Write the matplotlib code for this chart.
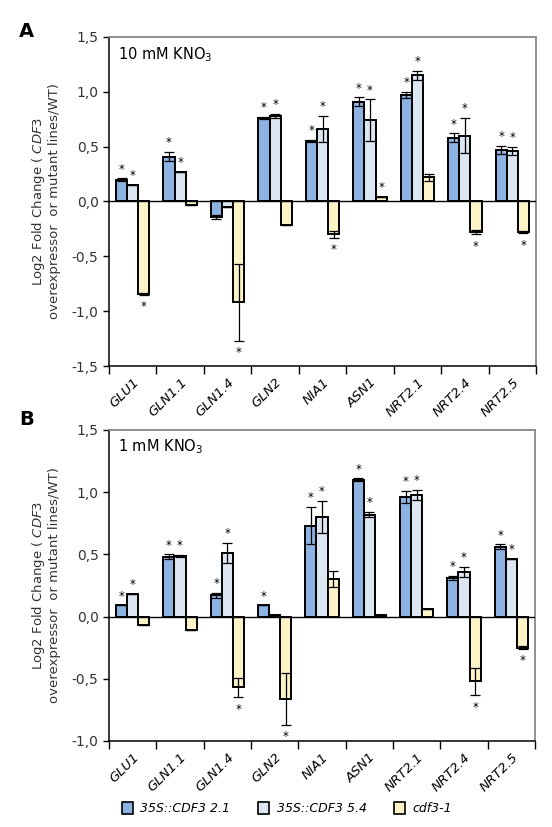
import matplotlib
matplotlib.use('Agg')
import matplotlib.pyplot as plt
from matplotlib.patches import Patch
from matplotlib.ticker import FuncFormatter, FixedLocator
import numpy as np

# Data
# -------------------------------------------------------------------------------------------
genes = ['GLU1', 'GLN1.1', 'GLN1.4', 'GLN2', 'NIA1', 'ASN1', 'NRT2.1', 'NRT2.4', 'NRT2.5']
series = ['35S::CDF3 2.1', '35S::CDF3 5.4', 'cdf3-1']

# panel A - 10 mM KNO3
a_oe21 = [0.20, 0.41, -0.14, 0.76, 0.55, 0.91, 0.97, 0.58, 0.47]
a_oe21_err = [0.01, 0.04, 0.02, 0.01, 0.01, 0.04, 0.03, 0.04, 0.04]
a_oe54 = [0.15, 0.27, -0.05, 0.78, 0.66, 0.74, 1.15, 0.60, 0.46]
a_oe54_err = [0.00, 0.00, 0.00, 0.02, 0.12, 0.19, 0.04, 0.16, 0.04]
a_mut = [-0.84, -0.03, -0.92, -0.21, -0.30, 0.04, 0.22, -0.28, -0.28]
a_mut_err = [0.01, 0.00, 0.35, 0.00, 0.03, 0.00, 0.03, 0.02, 0.01]
a_stars = [[1, 1, 1], [1, 1, 0], [0, 0, 1], [1, 1, 0], [1, 1, 1],
           [1, 1, 1], [1, 1, 0], [1, 1, 1], [1, 1, 1]]

# panel B - 1 mM KNO3
b_oe21 = [0.09, 0.48, 0.17, 0.09, 0.73, 1.10, 0.96, 0.31, 0.56]
b_oe21_err = [0.00, 0.02, 0.02, 0.00, 0.15, 0.01, 0.05, 0.02, 0.02]
b_oe54 = [0.185, 0.485, 0.51, 0.01, 0.80, 0.82, 0.98, 0.36, 0.465]
b_oe54_err = [0.00, 0.01, 0.08, 0.00, 0.13, 0.02, 0.04, 0.04, 0.00]
b_mut = [-0.065, -0.11, -0.57, -0.66, 0.30, 0.01, 0.06, -0.52, -0.25]
b_mut_err = [0.00, 0.00, 0.08, 0.21, 0.065, 0.00, 0.00, 0.11, 0.01]
b_stars = [[1, 1, 0], [1, 1, 0], [1, 1, 1], [1, 0, 1], [1, 1, 0],
           [1, 1, 0], [1, 1, 0], [1, 1, 1], [1, 1, 1]]

colors = ['#8db3e2', '#dce6f2', '#fdf3c6']
bw = 0.235

# Plotting
# ----------------------------------------------------------------------------------------------
def comma(v, pos):
    return ('%.1f' % v).replace('.', ',')


def panel(ax, vals, errs, stars, ylim, title):
    x = np.arange(len(genes))
    for k in range(3):
        xs = x + (k - 1) * bw
        ax.bar(xs, vals[k], bw, color=colors[k], edgecolor='black', linewidth=1.4, zorder=2)
        ax.errorbar(xs, vals[k], yerr=errs[k], fmt='none', ecolor='black',
                    elinewidth=0.9, capsize=3.5, capthick=0.9, zorder=3)
        for i in range(len(genes)):
            if not stars[i][k]:
                continue
            v = vals[k][i]
            e = errs[k][i]
            if v >= 0:
                ax.annotate('*', (xs[i], v + e), xytext=(0, 2), textcoords='offset points',
                            ha='center', va='bottom', fontsize=8.5)
            else:
                ax.annotate('*', (xs[i], v - e), xytext=(0, -4), textcoords='offset points',
                            ha='center', va='top', fontsize=8.5)
    ax.axhline(0, color='black', linewidth=1.0, zorder=4)
    ax.set_xlim(-0.5, len(genes) - 0.5)
    ax.set_ylim(ylim)
    ax.set_yticks(np.arange(ylim[0], ylim[1] + 0.01, 0.5))
    ax.yaxis.set_major_formatter(FuncFormatter(comma))
    ax.set_xticks(x)
    ax.set_xticklabels(genes, rotation=45, ha='right', rotation_mode='anchor',
                       fontstyle='italic', fontsize=9.5)
    ax.xaxis.set_minor_locator(FixedLocator(np.arange(-0.5, len(genes), 1.0)))
    ax.tick_params(axis='x', which='major', length=0, pad=7)
    ax.tick_params(axis='x', which='minor', length=6, width=1.0, direction='out')
    ax.tick_params(axis='y', length=4, width=1.0, direction='out', labelsize=10, labelcolor='#333333')
    for s in ['left', 'bottom']:
        ax.spines[s].set_linewidth(1.1)
    for s in ['top', 'right']:
        ax.spines[s].set_color('#888888')
        ax.spines[s].set_linewidth(1.3)
    ax.text(0.02, 0.975, title, transform=ax.transAxes, ha='left', va='top', fontsize=10.5)
    ax.set_ylabel('Log2 Fold Change ( $\\it{CDF3}$\noverexpressor  or mutant lines/WT)',
                  fontsize=9.5, color='#333333', labelpad=8, linespacing=1.1)


fig = plt.figure(figsize=(5.52, 8.27), dpi=100)
ax1 = fig.add_axes([0.1975, 0.5574, 0.7736, 0.3979])
ax2 = fig.add_axes([0.1975, 0.1040, 0.7718, 0.3761])

panel(ax1, [a_oe21, a_oe54, a_mut], [a_oe21_err, a_oe54_err, a_mut_err], a_stars,
      (-1.5, 1.5), '10 mM KNO$_3$')
panel(ax2, [b_oe21, b_oe54, b_mut], [b_oe21_err, b_oe54_err, b_mut_err], b_stars,
      (-1.0, 1.5), '1 mM KNO$_3$')

fig.text(0.035, 0.962, 'A', fontsize=14, fontweight='bold', va='center')
fig.text(0.035, 0.493, 'B', fontsize=14, fontweight='bold', va='center')

handles = [Patch(facecolor=c, edgecolor='black', linewidth=1.2) for c in colors]
leg = fig.legend(handles, series, loc='center', bbox_to_anchor=(0.52, 0.022), ncol=3,
                 frameon=False, handlelength=0.9, handleheight=1.1, columnspacing=2.2,
                 handletextpad=0.6, prop={'style': 'italic', 'size': 9})

plt.savefig('out.png', dpi=100)
